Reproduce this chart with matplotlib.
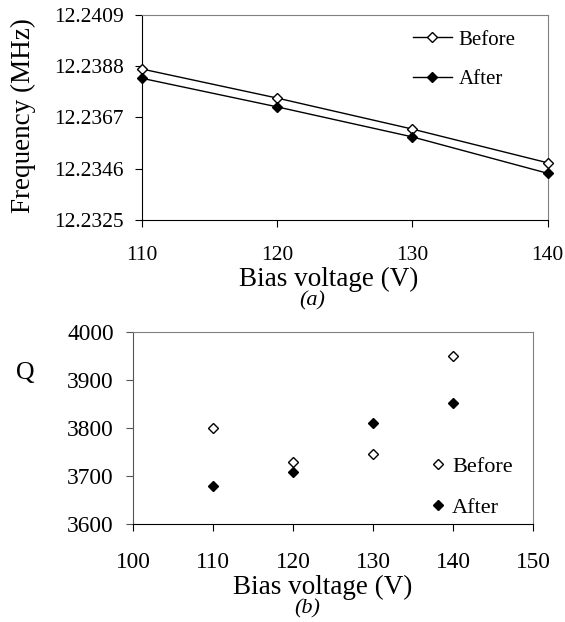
import numpy as np
import matplotlib.pyplot as plt
from matplotlib.ticker import FormatStrFormatter

plt.rcParams['font.family'] = ['Liberation Serif', 'DejaVu Serif']

# (a) resonant frequency vs bias voltage
voltage_a = [110, 120, 130, 140]
freq_before = [12.23868, 12.23749, 12.23622, 12.23484]
freq_after = [12.23830, 12.23713, 12.23590, 12.23441]
freq_ticks = [12.2325, 12.2346, 12.2367, 12.2388, 12.2409]

# (b) quality factor vs bias voltage
voltage_b = [110, 120, 130, 140]
q_before = [3800, 3729, 3746, 3951]
q_after = [3680, 3710, 3812, 3852]

W, H = 565, 622
GRAY = '#808080'


def fx(px):
    return px / W


def fy(py):
    return 1 - py / H


fig = plt.figure(figsize=(W / 100, H / 100), dpi=100)

# --- top panel ---
ax1 = fig.add_axes([fx(141.7), fy(220), fx(547.7) - fx(141.7), fy(14.7) - fy(220)])
ax1.plot(voltage_a, freq_before, color='black', lw=1.0, marker='D', ms=4.6,
         mfc='white', mec='black', mew=1.0, label='Before', clip_on=False, zorder=3)
ax1.plot(voltage_a, freq_after, color='black', lw=1.0, marker='D', ms=4.6,
         mfc='black', mec='black', mew=1.0, label='After', clip_on=False, zorder=3)
ax1.set_xlim(110, 140)
ax1.set_ylim(freq_ticks[0], freq_ticks[-1])
ax1.set_xticks(voltage_a)
ax1.set_yticks(freq_ticks)
ax1.yaxis.set_major_formatter(FormatStrFormatter('%.4f'))
ax1.tick_params(axis='both', direction='out', length=5, width=0.8, labelsize=15.5)
ax1.tick_params(axis='y', pad=8)
ax1.tick_params(axis='x', pad=14)
for side in ['top', 'right']:
    ax1.spines[side].set_color(GRAY)
for sp in ax1.spines.values():
    sp.set_linewidth(0.8)
ax1.legend(loc='upper left', bbox_to_anchor=(fx(413), fy(30)), bbox_transform=fig.transFigure,
           frameon=False, fontsize=15, handlelength=1.85, handletextpad=0.35,
           labelspacing=0.95, borderpad=0, borderaxespad=0)

fig.text(fx(23), fy(116), 'Frequency (MHz)', rotation=90, ha='center', va='center', fontsize=19.5)
fig.text(fx(329), fy(279), 'Bias voltage (V)', ha='center', va='center', fontsize=19.5)
fig.text(fx(312), fy(301), '(a)', ha='center', va='center', fontsize=16, style='italic')

# --- bottom panel ---
ax2 = fig.add_axes([fx(133.3), fy(524.3), fx(533.3) - fx(133.3), fy(332.3) - fy(524.3)])
ax2.plot(voltage_b, q_before, ls='none', marker='D', ms=5.0, mfc='white', mec='black',
         mew=1.0, label='Before', zorder=3)
ax2.plot(voltage_b, q_after, ls='none', marker='D', ms=5.4, mfc='black', mec='black',
         mew=1.0, label='After', zorder=3)
ax2.set_xlim(100, 150)
ax2.set_ylim(3600, 4000)
ax2.set_xticks(np.arange(100, 151, 10))
ax2.set_yticks(np.arange(3600, 4001, 100))
ax2.tick_params(axis='both', direction='out', length=5, width=0.8, labelsize=16.8)
ax2.tick_params(axis='y', pad=9, color='#555555')
ax2.tick_params(axis='x', pad=15)
for side in ['top', 'right']:
    ax2.spines[side].set_color(GRAY)
ax2.spines['left'].set_color('#555555')
for sp in ax2.spines.values():
    sp.set_linewidth(0.8)
ax2.legend(loc='upper left', bbox_to_anchor=(fx(431), fy(456)), bbox_transform=fig.transFigure,
           frameon=False, fontsize=16, handlelength=0.6, handletextpad=0.35,
           labelspacing=0.93, borderpad=0, borderaxespad=0)

fig.text(fx(25), fy(373), 'Q', ha='center', va='center', fontsize=18.5)
fig.text(fx(323), fy(587), 'Bias voltage (V)', ha='center', va='center', fontsize=19.5)
fig.text(fx(307), fy(609), '(b)', ha='center', va='center', fontsize=16, style='italic')

fig.savefig('out.png', dpi=100)
